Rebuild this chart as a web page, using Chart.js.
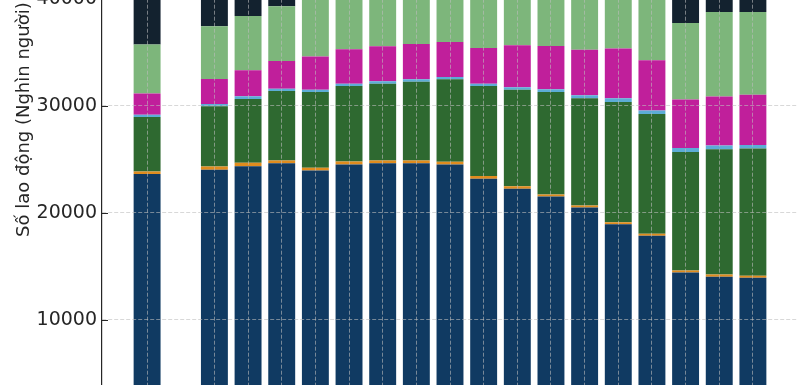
<!DOCTYPE html>
<html lang="vi">
<head>
<meta charset="utf-8">
<title>Số lao động theo ngành kinh tế</title>
<script src="https://cdn.jsdelivr.net/npm/chart.js@4/dist/chart.umd.min.js"></script>
<style>
    html, body { margin: 0; padding: 0; background: #fff; }
    #frame { position: relative; width: 810px; height: 385px; overflow: hidden; }
    #wrap { position: absolute; left: 0; top: -197px; width: 810px; height: 674px; }
</style>
</head>
<body>
<div id="frame"><div id="wrap"><canvas id="laborChart"></canvas></div></div>
<script>
// Năm (2006 không có số liệu)
const years = [2005, 2007, 2008, 2009, 2010, 2011, 2012, 2013, 2014, 2015, 2016, 2017, 2018, 2019, 2020, 2021, 2022, 2023];

// Số lao động theo ngành (nghìn người)
const agriculture  = [23620, 24015, 24350, 24630, 23950, 24510, 24630, 24630, 24510, 23170, 22240, 21520, 20490, 18920, 17840, 14400, 14000, 13910];
const mining       = [240, 305, 320, 255, 250, 280, 255, 255, 250, 250, 240, 180, 180, 190, 180, 190, 220, 190];
const manufacture  = [5080, 5620, 5950, 6485, 7080, 7050, 7175, 7365, 7710, 8420, 9020, 9580, 10020, 11230, 11200, 11070, 11720, 11910];
const utilities    = [220, 210, 255, 225, 220, 220, 220, 220, 210, 220, 220, 250, 280, 350, 340, 380, 350, 310];
const construction = [1970, 2350, 2435, 2585, 3090, 3210, 3270, 3300, 3280, 3340, 3930, 4050, 4270, 4650, 4680, 4530, 4580, 4710];
const trade        = [4580, 4930, 5080, 5120, 6600, 6700, 6800, 6900, 7000, 7100, 7200, 7300, 7400, 7500, 7400, 7170, 7890, 7730];
const services     = [7065, 7778, 8071, 8444, 7859, 8382, 9072, 9538, 9785, 10340, 10453, 10823, 11609, 11819, 11969, 11332, 11845, 12530];

const yTicks = [0, 10000, 20000, 30000, 40000, 50000];

const series = [
    { label: 'Nông, lâm nghiệp và thủy sản', values: agriculture, color: '#103a62' },
    { label: 'Khai khoáng', values: mining, color: '#e08c1e' },
    { label: 'Công nghiệp chế biến, chế tạo', values: manufacture, color: '#2e6930' },
    { label: 'Điện, nước', values: utilities, color: '#5cadd6' },
    { label: 'Xây dựng', values: construction, color: '#c01f9b' },
    { label: 'Bán buôn và bán lẻ', values: trade, color: '#7db67b' },
    { label: 'Dịch vụ khác', values: services, color: '#13222f' }
];

const gridColor = 'rgba(190, 190, 190, 0.75)';
const textColor = '#262626';

// vạch chia hướng vào trong
const innerTicks = {
    id: 'innerTicks',
    afterDraw(chart) {
        const { ctx, chartArea, scales } = chart;
        ctx.save();
        ctx.strokeStyle = textColor;
        ctx.lineWidth = 1;
        scales.y.ticks.forEach(t => {
            const y = Math.round(scales.y.getPixelForValue(t.value)) + 0.5;
            ctx.beginPath();
            ctx.moveTo(chartArea.left, y);
            ctx.lineTo(chartArea.left + 6, y);
            ctx.stroke();
        });
        ctx.restore();
    }
};

new Chart(document.getElementById('laborChart'), {
    type: 'bar',
    data: {
        datasets: series.map(s => ({
            label: s.label,
            data: years.map((yr, i) => ({ x: yr, y: s.values[i] })),
            backgroundColor: s.color,
            borderWidth: 0,
            barPercentage: 0.8,
            categoryPercentage: 1
        }))
    },
    options: {
        responsive: true,
        maintainAspectRatio: false,
        animation: false,
        layout: { padding: { top: 9.7, right: 12, bottom: 10.4, left: 0 } },
        plugins: { legend: { display: false }, tooltip: { enabled: false } },
        scales: {
            x: {
                type: 'linear',
                stacked: true,
                offset: false,
                min: 2003.66,
                max: 2024.34,
                afterBuildTicks: scale => { scale.ticks = years.map(v => ({ value: v })); },
                afterFit: scale => { scale.height = 40; scale.paddingLeft = 0; scale.paddingRight = 0; },
                grid: { color: gridColor, lineWidth: 0.8, drawTicks: false, offset: false, z: 1 },
                border: { display: false, dash: [4, 2] },
                ticks: {
                    color: textColor,
                    font: { family: 'DejaVu Sans', size: 16 },
                    padding: 8,
                    callback: v => String(v)
                }
            },
            y: {
                stacked: true,
                min: 0,
                max: 57392,
                afterBuildTicks: scale => { scale.ticks = yTicks.map(v => ({ value: v })); },
                afterFit: scale => { scale.width = 102; scale.paddingTop = 0; scale.paddingBottom = 0; },
                grid: { color: gridColor, lineWidth: 0.8, drawTicks: false, z: 1 },
                border: { display: true, color: textColor, width: 1.2, dash: [4, 2], z: 2 },
                ticks: {
                    color: textColor,
                    font: { family: 'DejaVu Sans', size: 19 },
                    padding: 5,
                    callback: v => String(v)
                },
                title: {
                    display: true,
                    text: 'Số lao động (Nghìn người)',
                    color: textColor,
                    font: { family: 'DejaVu Sans', size: 18 },
                    padding: { top: 14 }
                }
            }
        }
    },
    plugins: [innerTicks]
});
</script>
</body>
</html>
